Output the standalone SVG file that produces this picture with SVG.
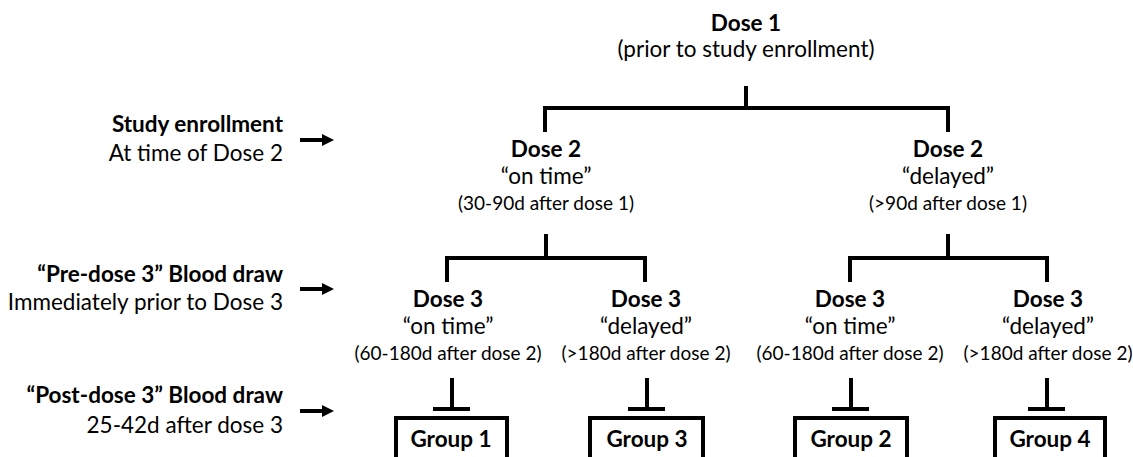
<svg xmlns="http://www.w3.org/2000/svg" width="1133" height="457" viewBox="0 0 1133 457">
<style>
text{font-family:Lato,"Noto Sans","Liberation Sans",sans-serif;fill:#000;}
.b{font-weight:bold;font-size:22.5px;}
.r{font-size:22.5px;}
.s{font-size:19px;}
.m{text-anchor:middle;}
.e{text-anchor:end;}
.ln{fill:none;stroke:#000;stroke-width:4;stroke-linejoin:miter;}
.box{fill:#fff;stroke:#000;stroke-width:4;}
</style>
<defs>
<marker id="ah" markerWidth="13" markerHeight="13" refX="1" refY="6" orient="auto" markerUnits="userSpaceOnUse">
<path d="M0,0 L12,6 L0,12 Z" fill="#000"/>
</marker>
</defs>
<rect width="1133" height="457" fill="#fff"/>
<g id="labels">
<g id="lbl-enroll"><text class="b e" x="283" y="132">Study enrollment</text><text class="r e" x="283" y="161">At time of Dose 2</text></g>
<g id="lbl-pre"><text class="b e" x="283" y="282">“Pre-dose 3” Blood draw</text><text class="r e" x="283" y="310">Immediately prior to Dose 3</text></g>
<g id="lbl-post"><text class="b e" x="283" y="403">“Post-dose 3” Blood draw</text><text class="r e" x="283" y="433">25-42d after dose 3</text></g>
</g>
<g id="connectors">
<path class="ln" d="M300,140 H323" marker-end="url(#ah)"/>
<path class="ln" d="M300,289 H323" marker-end="url(#ah)"/>
<path class="ln" d="M300,411 H323" marker-end="url(#ah)"/>
<path class="ln" d="M746,86 V108 M545,132 V108 H948 V132"/>
<path class="ln" d="M546,234 V258 M447,282 V258 H645 V282"/>
<path class="ln" d="M948,234 V258 M850,282 V258 H1047 V282"/>
<path class="ln" d="M452,378 V409 M433,409 H470"/>
<path class="ln" d="M647,378 V409 M628,409 H665"/>
<path class="ln" d="M851,378 V409 M832,409 H869"/>
<path class="ln" d="M1047,378 V409 M1028,409 H1065"/>
</g>
<g id="dose1"><text class="b m" x="746" y="31">Dose 1</text><text class="r m" x="746" y="57">(prior to study enrollment)</text></g>
<g id="dose2-ontime"><text class="b m" x="546" y="157">Dose 2</text><text class="r m" x="546" y="184">“on time”</text><text class="s m" x="546" y="210">(30-90d after dose 1)</text></g>
<g id="dose2-delayed"><text class="b m" x="948" y="157">Dose 2</text><text class="r m" x="948" y="184">“delayed”</text><text class="s m" x="948" y="210">(&gt;90d after dose 1)</text></g>
<g id="dose3-a"><text class="b m" x="448" y="307">Dose 3</text><text class="r m" x="448" y="334">“on time”</text><text class="s m" x="448" y="360">(60-180d after dose 2)</text></g>
<g id="dose3-b"><text class="b m" x="646" y="307">Dose 3</text><text class="r m" x="646" y="334">“delayed”</text><text class="s m" x="646" y="360">(&gt;180d after dose 2)</text></g>
<g id="dose3-c"><text class="b m" x="850" y="307">Dose 3</text><text class="r m" x="850" y="334">“on time”</text><text class="s m" x="850" y="360">(60-180d after dose 2)</text></g>
<g id="dose3-d"><text class="b m" x="1048" y="307">Dose 3</text><text class="r m" x="1048" y="334">“delayed”</text><text class="s m" x="1048" y="360">(&gt;180d after dose 2)</text></g>
<g id="group1"><rect class="box" x="396" y="418" width="111" height="60"/><text class="b m" x="451" y="447">Group 1</text></g>
<g id="group3"><rect class="box" x="590" y="418" width="113" height="60"/><text class="b m" x="647" y="447">Group 3</text></g>
<g id="group2"><rect class="box" x="795" y="418" width="112" height="60"/><text class="b m" x="851" y="447">Group 2</text></g>
<g id="group4"><rect class="box" x="995" y="418" width="110" height="60"/><text class="b m" x="1050" y="447">Group 4</text></g>
</svg>
